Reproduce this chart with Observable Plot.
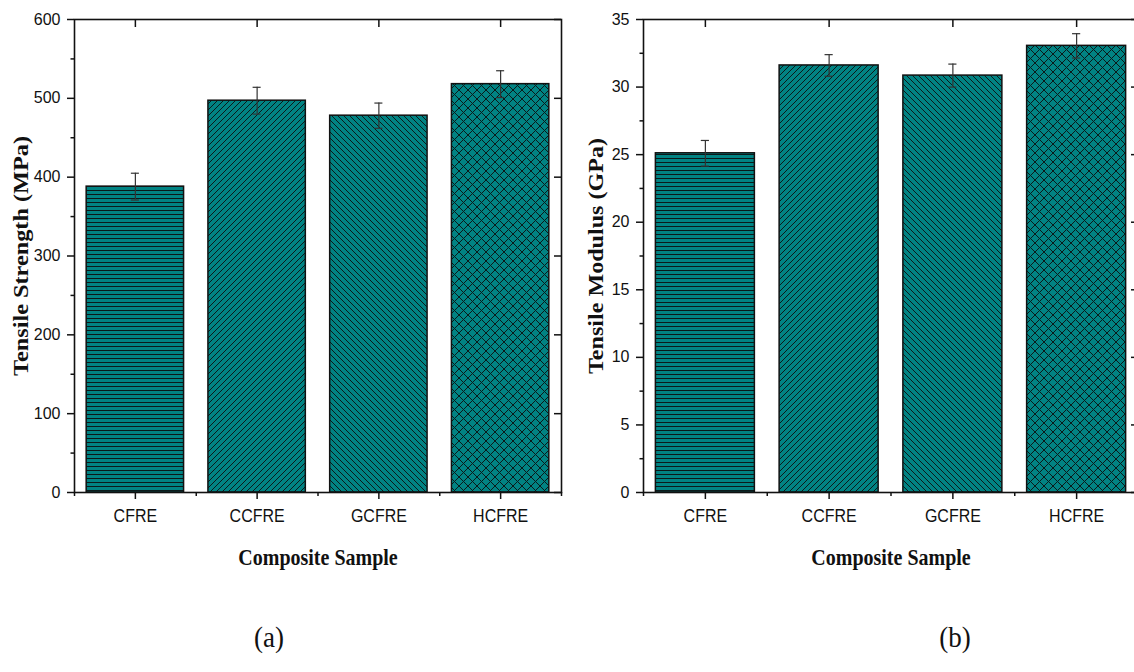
<!DOCTYPE html>
<html><head><meta charset="utf-8">
<script src="https://cdn.jsdelivr.net/npm/d3@7"></script>
<script src="https://cdn.jsdelivr.net/npm/@observablehq/plot@0.6"></script>
<style>
body{margin:0;background:#fff;}
#wrap{position:relative;width:1134px;height:672px;overflow:hidden;background:#fff;}
.panel{position:absolute;top:0;width:600px;}
.panel svg{max-width:none !important;display:block;}
.cap{position:absolute;font-family:"Liberation Serif","Times New Roman",serif;font-size:27px;color:#111;transform:translateX(-50%) scaleY(1.1);line-height:1;}
</style></head><body>
<div id="wrap">
  <div id="pa" class="panel" style="left:0px"></div>
  <div id="pb" class="panel" style="left:567px"></div>
  <div class="cap" style="left:269px;top:624px">(a)</div>
  <div class="cap" style="left:955px;top:624px">(b)</div>
</div>
<script>
// ---- data ----
const categories = ["CFRE", "CCFRE", "GCFRE", "HCFRE"];
const strength = [388, 497, 478, 518];
const strengthErr = [17, 17, 16, 17];
const modulus = [25.1, 31.6, 30.85, 33.05];
const modulusErr = [0.95, 0.8, 0.85, 0.9];
const patternNames = ["h", "f", "b", "x"];
const strengthTicks = [0, 100, 200, 300, 400, 500, 600];
const strengthMinor = [50, 150, 250, 350, 450, 550];
const modulusTicks = [0, 5, 10, 15, 20, 25, 30, 35];
const modulusMinor = [2.5, 7.5, 12.5, 17.5, 22.5, 27.5, 32.5];
const catMinor = [-0.5, 0.5, 1.5, 2.5, 3.5];
const xTitle = "Composite Sample";

const TEAL = "#018383", INK = "#0b1a1a", AX = "#111";

function defsMark(prefix) {
  return () => {
    const d = d3.create("svg:defs");
    const add = (name, w, h, path) => {
      const p = d.append("pattern").attr("id", prefix + name)
        .attr("patternUnits", "userSpaceOnUse").attr("width", w).attr("height", h);
      p.append("rect").attr("width", w).attr("height", h).attr("fill", TEAL);
      p.append("path").attr("d", path).attr("stroke", INK).attr("stroke-width", 1).attr("fill", "none");
    };
    add("h", 6, 4, "M0,2.5H6");
    add("f", 6, 6, "M0,6L6,0M-1,1L1,-1M5,7L7,5");
    add("b", 6, 6, "M0,0L6,6M-1,5L1,7M5,-1L7,1");
    add("x", 9, 9, "M0,9L9,0M-1,1L1,-1M8,10L10,8M0,0L9,9M-1,8L1,10M8,-1L10,1");
    return d.node();
  };
}

function stretch(sel, k) {
  sel.each(function () {
    const t = this.getAttribute("transform") || "";
    this.setAttribute("transform", t + ` scale(1,${k})`);
  });
}

function chart({values, errors, ticks, minor, yMax, yTitle, prefix, marginLeft, plotWidth, yTitleX, yTitleLen}) {
  const marginTop = 19, marginBottom = 88, marginRight = 6, height = 580;
  const plotH = height - marginTop - marginBottom;
  const rows = categories.map((c, i) => ({i, c, v: values[i], e: errors[i], p: `url(#${prefix}${patternNames[i]})`}));
  const idx = categories.map((c, i) => i);
  const font = "Liberation Sans, Arial, sans-serif";
  const serif = "Liberation Serif, Times New Roman, serif";
  const svg = Plot.plot({
    width: marginLeft + plotWidth + marginRight, height,
    marginLeft, marginRight, marginTop, marginBottom,
    style: {fontFamily: font, fontSize: "16px", color: AX, background: "transparent", overflow: "visible"},
    x: {domain: [-0.5, 3.5]},
    y: {domain: [0, yMax]},
    marks: [
      defsMark(prefix),
      Plot.rect(rows, {x1: d => d.i - 0.4, x2: d => d.i + 0.4, y1: 0, y2: "v", fill: "p", stroke: AX, strokeWidth: 1.5}),
      Plot.ruleX(rows, {x: "i", y1: d => d.v - d.e, y2: d => d.v + d.e, stroke: "#333", strokeWidth: 1.2}),
      Plot.ruleY(rows, {y: d => d.v + d.e, x1: d => d.i - 0.033, x2: d => d.i + 0.033, stroke: "#333", strokeWidth: 1.2}),
      Plot.ruleY(rows, {y: d => d.v - d.e, x1: d => d.i - 0.033, x2: d => d.i + 0.033, stroke: "#333", strokeWidth: 1.2}),
      Plot.frame({stroke: AX, strokeWidth: 1.6}),
      Plot.axisY({ticks, tickSize: 7, tickPadding: 7, strokeWidth: 1.5, label: null, fontSize: 16, ariaLabel: "ymajor"}),
      Plot.axisY({ticks: minor, tickSize: 3.5, tickFormat: () => "", strokeWidth: 1.5, label: null}),
      Plot.tickY(ticks, {y: d => d, insetLeft: plotWidth - 7, stroke: AX, strokeWidth: 1.5}),
      Plot.tickX(idx, {x: d => d, insetBottom: plotH - 8, stroke: AX, strokeWidth: 1.5}),
      Plot.axisX({ticks: idx, tickSize: 7, tickPadding: 9, tickFormat: i => categories[i], strokeWidth: 1.5, label: null, fontSize: 16}),
      Plot.axisX({ticks: catMinor, tickSize: 4, tickFormat: () => "", strokeWidth: 1.5, label: null}),
      Plot.text([yTitle], {frameAnchor: "left", textAnchor: "middle", lineAnchor: "middle", rotate: -90, dx: yTitleX - marginLeft, fontFamily: serif, fontWeight: "bold", fontSize: 21, fill: AX, className: "ytitle"}),
      Plot.text([xTitle], {frameAnchor: "bottom", textAnchor: "middle", lineAnchor: "middle", dy: 65, fontFamily: serif, fontWeight: "bold", fontSize: 20, fill: AX, className: "xtitle"})
    ]
  });
  const s = d3.select(svg);
  stretch(s.selectAll("g[aria-label='x-axis tick label'] text, g[aria-label='y-axis tick label'] text"), 1.15);
  stretch(s.selectAll("g.xtitle text"), 1.2);
  s.selectAll("g.ytitle text").attr("textLength", yTitleLen).attr("lengthAdjust", "spacingAndGlyphs");
  return svg;
}

document.getElementById("pa").append(chart({
  values: strength, errors: strengthErr, ticks: strengthTicks, minor: strengthMinor, yMax: 600,
  yTitle: "Tensile Strength (MPa)", prefix: "pa-", marginLeft: 74, plotWidth: 487, yTitleX: 21, yTitleLen: 240
}));
document.getElementById("pb").append(chart({
  values: modulus, errors: modulusErr, ticks: modulusTicks, minor: modulusMinor, yMax: 35,
  yTitle: "Tensile Modulus (GPa)", prefix: "pb-", marginLeft: 76, plotWidth: 495, yTitleX: 29, yTitleLen: 236
}));
</script>
</body></html>
